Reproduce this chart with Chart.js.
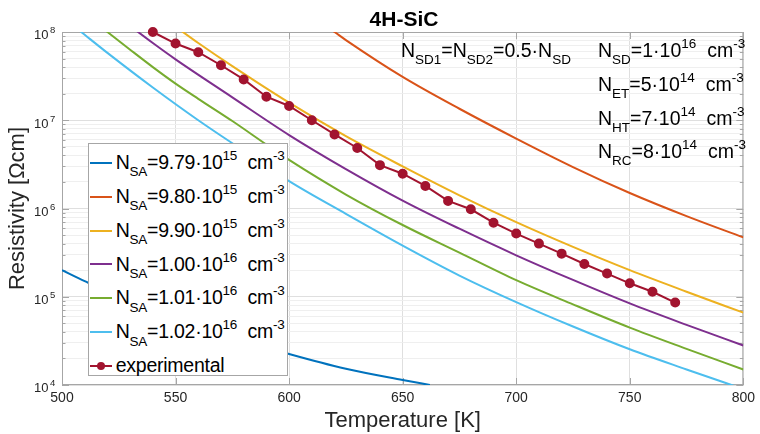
<!DOCTYPE html>
<html>
<head>
<meta charset="utf-8">
<script src="https://cdn.jsdelivr.net/npm/chart.js@4.4.1/dist/chart.umd.min.js"></script>
<style>
  html, body { margin: 0; padding: 0; background: #fff; }
  #wrap { position: relative; width: 760px; height: 434px; font-family: "Liberation Sans", Arial, Helvetica, sans-serif; color: #000; }
  canvas { position: absolute; left: 0; top: 0; }
  .txt { position: absolute; font-size: 19.5px; line-height: 19.5px; white-space: nowrap; }
  .txt sub, .txt sup { font-size: 13.5px; vertical-align: baseline; position: relative; line-height: 0; }
  .txt sub { top: 7.5px; }
  .txt sup { top: -9px; }
  .leg { letter-spacing: -0.25px; }
  #title { position: absolute; left: 304px; width: 200px; top: 8.2px; text-align: center; font-weight: bold; font-size: 21px; line-height: 21px; }
  #legend { position: absolute; left: 88px; top: 143px; width: 200px; height: 233px; box-sizing: border-box; border: 1px solid #a6a6a6; background: #fff; }
  .swatch { position: absolute; left: 1px; width: 22px; height: 2px; }
  .dot { position: absolute; width: 8px; height: 8px; border-radius: 50%; }
</style>
</head>
<body>
<div id="wrap">
  <canvas id="chart" width="760" height="434"></canvas>
  <div id="title">4H-SiC</div>
  <div class="txt" style="left:401px;top:40.8px">N<sub>SD1</sub>=N<sub>SD2</sub>=0.5·N<sub>SD</sub></div>
  <div class="txt" style="left:598px;top:40.8px">N<sub>SD</sub>=1·10<sup>16</sup>&nbsp; cm<sup>-3</sup></div>
  <div class="txt" style="left:598px;top:74.5px">N<sub>ET</sub>=5·10<sup>14</sup>&nbsp; cm<sup>-3</sup></div>
  <div class="txt" style="left:598px;top:108.5px">N<sub>HT</sub>=7·10<sup>14</sup>&nbsp; cm<sup>-3</sup></div>
  <div class="txt" style="left:598px;top:141.8px">N<sub>RC</sub>=8·10<sup>14</sup>&nbsp; cm<sup>-3</sup></div>
  <div id="legend"></div>
</div>
<script>
// ── Values ────────────────────────────────────────────────────────────────────
const nsaMant = ["9.79", "9.80", "9.90", "1.00", "1.01", "1.02"];
const nsaExp  = ["15", "15", "15", "16", "16", "16"];
const colors  = ["#0072BD", "#D95319", "#EDB120", "#7E2F8E", "#77AC30", "#4DBEEE"];
const expColor = "#A2142F";

// simulated curves: temperature [K] and resistivity [Ohm cm]
const tBlue   = [500, 510, 525, 550, 575, 600, 625, 650, 662];
const rhoBlue = [2.0e5, 1.5e5, 1.0e5, 5.7e4, 3.5e4, 2.25e4, 1.53e4, 1.14e4, 1.0e4];

const tOrange   = [615, 620, 625, 650, 675, 700, 725, 750, 775, 800];
const rhoOrange = [1.23e8, 1.0e8, 8.1e7, 3.1e7, 1.35e7, 6.2e6, 2.95e6, 1.5e6, 8.2e5, 4.7e5];

const tYellow   = [550, 560, 575, 600, 625, 650, 675, 700, 725, 750, 775, 800];
const rhoYellow = [1.15e8, 7.5e7, 4.1e7, 1.58e7, 6.6e6, 3.0e6, 1.41e6, 7.0e5, 3.67e5, 2.0e5, 1.14e5, 6.6e4];

const tPurple   = [530, 540, 550, 575, 600, 625, 650, 675, 700, 725, 750, 775, 800];
const rhoPurple = [1.17e8, 7.5e7, 4.9e7, 1.82e7, 6.8e6, 2.8e6, 1.23e6, 5.9e5, 2.95e5, 1.55e5, 8.4e4, 4.8e4, 2.8e4];

const tGreen   = [515, 520, 530, 540, 550, 560, 575, 590, 600, 625, 650, 675, 700, 725, 750, 775, 800];
const rhoGreen = [1.26e8, 1.0e8, 6.3e7, 4.0e7, 2.6e7, 1.75e7, 9.8e6, 5.3e6, 3.55e6, 1.44e6, 6.5e5, 3.16e5, 1.54e5, 8.2e4, 4.47e4, 2.57e4, 1.5e4];

const tLight   = [505, 510, 520, 540, 560, 580, 600, 625, 650, 675, 700, 725, 750, 775, 800];
const rhoLight = [1.18e8, 9.3e7, 5.8e7, 2.35e7, 1.0e7, 4.5e6, 2.04e6, 8.7e5, 3.8e5, 1.74e5, 8.7e4, 4.6e4, 2.54e4, 1.5e4, 9.0e3];

// experimental points
const tExp   = [540, 550, 560, 570, 580, 590, 600, 610, 620, 630, 640, 650,
                660, 670, 680, 690, 700, 710, 720, 730, 740, 750, 760, 770];
const rhoExp = [1.0e8, 7.4e7, 5.9e7, 4.2e7, 2.9e7, 1.85e7, 1.45e7, 1.0e7, 6.9e6, 4.85e6, 3.1e6, 2.48e6,
                1.8e6, 1.22e6, 9.8e5, 6.9e5, 5.2e5, 4.0e5, 3.08e5, 2.35e5, 1.83e5, 1.42e5, 1.14e5, 8.6e4];

// axes
const xMin = 500, xMax = 800, xStep = 50;
const yDecades   = [4, 5, 6, 7, 8];
const yTickBase  = "10";
const yTickPower = ["4", "5", "6", "7", "8"];

// ── Helpers ───────────────────────────────────────────────────────────────────
const FONT = '"Liberation Sans", Arial, Helvetica, sans-serif';
const toXY = (t, r) => t.map((x, i) => ({ x: x, y: r[i] }));

const curves = [[tBlue, rhoBlue], [tOrange, rhoOrange], [tYellow, rhoYellow],
                [tPurple, rhoPurple], [tGreen, rhoGreen], [tLight, rhoLight]];

const datasets = curves.map((c, i) => ({
    label: "NSA=" + nsaMant[i] + "e" + nsaExp[i],
    data: toXY(c[0], c[1]),
    borderColor: colors[i],
    borderWidth: 2,
    pointRadius: 0,
    cubicInterpolationMode: "monotone",
    fill: false,
    order: 1
}));
datasets.push({
    label: "experimental",
    data: toXY(tExp, rhoExp),
    borderColor: expColor,
    backgroundColor: expColor,
    borderWidth: 2,
    pointRadius: 4,
    pointHoverRadius: 4,
    tension: 0,
    clip: 8,
    order: 0
});

// ── Box with inner tick marks + 10^n labels (MATLAB look) ─────────────────────
const framePlugin = {
    id: "frame",
    beforeDatasetsDraw(chart) {
        const { ctx, chartArea: a, scales: { x, y } } = chart;
        ctx.save();
        ctx.strokeStyle = "#a6a6a6";
        ctx.lineWidth = 1;
        ctx.beginPath();
        x.ticks.forEach(t => {
            const px = Math.round(x.getPixelForValue(t.value)) + 0.5;
            ctx.moveTo(px, a.bottom); ctx.lineTo(px, a.bottom - 7);
            ctx.moveTo(px, a.top);    ctx.lineTo(px, a.top + 7);
        });
        y.ticks.forEach(t => {
            const py = Math.round(y.getPixelForValue(t.value)) + 0.5;
            const len = t.major ? 7 : 3.5;
            ctx.moveTo(a.left, py);  ctx.lineTo(a.left + len, py);
            ctx.moveTo(a.right, py); ctx.lineTo(a.right - len, py);
        });
        ctx.stroke();
        ctx.strokeRect(a.left + 0.5, a.top + 0.5, a.right - a.left - 1, a.bottom - a.top - 1);

        // y tick labels with a real superscript
        ctx.fillStyle = "#262626";
        ctx.textBaseline = "alphabetic";
        yDecades.forEach((d, i) => {
            const py = y.getPixelForValue(Math.pow(10, d));
            ctx.font = "13px " + FONT;
            ctx.textAlign = "right";
            ctx.fillText(yTickBase, a.left - 13.5, py + 7.3);
            ctx.font = "9.5px " + FONT;
            ctx.textAlign = "left";
            ctx.fillText(yTickPower[i], a.left - 12, py + 1.3);
        });
        ctx.restore();
    }
};

// ── Chart setup ───────────────────────────────────────────────────────────────
const ctx = document.getElementById("chart").getContext("2d");
new Chart(ctx, {
    type: "line",
    data: { datasets: datasets },
    plugins: [framePlugin],
    options: {
        responsive: false,
        animation: false,
        events: [],
        layout: { padding: { left: 0, top: 32, right: 14, bottom: 0 } },
        plugins: {
            legend: { display: false },
            title: { display: false },
            tooltip: { enabled: false }
        },
        scales: {
            x: {
                type: "linear",
                min: xMin, max: xMax,
                ticks: { stepSize: xStep, color: "#262626", font: { size: 14, family: FONT }, padding: 5, maxRotation: 0 },
                grid: { color: "#dfdfdf", drawTicks: false },
                border: { display: false },
                title: { display: true, text: "Temperature [K]", color: "#262626",
                         font: { size: 22, family: FONT }, padding: { top: 0, bottom: 0 } },
                afterFit(s) { s.height = 49; }
            },
            y: {
                type: "logarithmic",
                min: Math.pow(10, yDecades[0]), max: Math.pow(10, yDecades[yDecades.length - 1]),
                afterBuildTicks(s) {
                    const ticks = [];
                    yDecades.slice(0, -1).forEach(d => {
                        for (let m = 1; m <= 9; m++) ticks.push({ value: m * Math.pow(10, d), major: m === 1 });
                    });
                    ticks.push({ value: Math.pow(10, yDecades[yDecades.length - 1]), major: true });
                    s.ticks = ticks;
                },
                ticks: { display: false, autoSkip: false },
                grid: { color: c => (c.tick && c.tick.major) ? "#dfdfdf" : "#efefef", drawTicks: false },
                border: { display: false },
                title: { display: true, text: "Resistivity [Ωcm]", color: "#262626",
                         font: { size: 22, family: FONT }, padding: { top: 5, bottom: 0 } },
                afterFit(s) { s.width = 62; }
            }
        }
    }
});

// ── Legend box (inside the axes, like the reference) ──────────────────────────
const legend = document.getElementById("legend");
const rowGap = 33.9;
nsaMant.forEach((m, i) => {
    legend.insertAdjacentHTML("beforeend",
        `<div class="swatch" style="top:${17.7 + i * rowGap}px;background:${colors[i]}"></div>` +
        `<div class="txt leg" style="left:26.7px;top:${8.8 + i * rowGap}px">N<sub>SA</sub>=${m}·10<sup>${nsaExp[i]}</sup>&nbsp; cm<sup>-3</sup></div>`);
});
const k = nsaMant.length;
legend.insertAdjacentHTML("beforeend",
    `<div class="swatch" style="top:${17.7 + k * rowGap}px;background:${expColor}"></div>` +
    `<div class="dot" style="left:8px;top:${14.7 + k * rowGap}px;background:${expColor}"></div>` +
    `<div class="txt leg" style="left:26.7px;top:${8.8 + k * rowGap}px">experimental</div>`);
</script>
</body>
</html>
